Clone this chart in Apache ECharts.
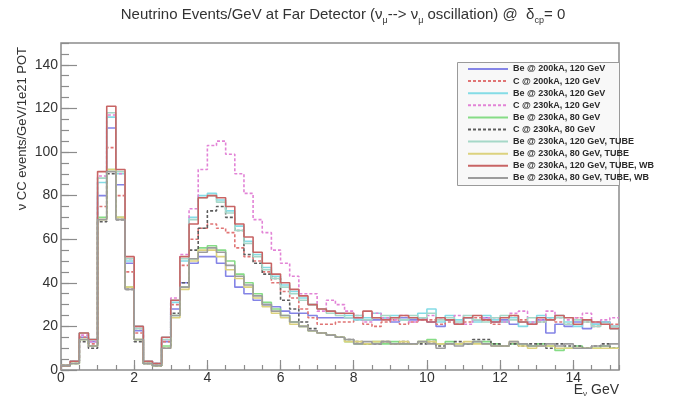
<!DOCTYPE html>
<html>
<head>
<meta charset="utf-8">
<script src="https://cdn.jsdelivr.net/npm/echarts@6/dist/echarts.min.js"></script>
<style>
html, body { margin: 0; padding: 0; background: #fff; }
#chart { width: 686px; height: 397px; }
</style>
</head>
<body>
<div id="chart"></div>
<script>
// histogram binning (GeV)
var binWidth = 0.25;
var xMax = 15.25;
var yMax = 150;

var seriesNames = [
    'Be @ 200kA, 120 GeV',
    'C @ 200kA, 120 GeV',
    'Be @ 230kA, 120 GeV',
    'C @ 230kA, 120 GeV',
    'Be @ 230kA, 80 GeV',
    'C @ 230kA, 80 GeV',
    'Be @ 230kA, 120 GeV, TUBE',
    'Be @ 230kA, 80 GeV, TUBE',
    'Be @ 230kA, 120 GeV, TUBE, WB',
    'Be @ 230kA, 80 GeV, TUBE, WB'
];

// events per bin, bins of 0.25 GeV from 0 to 15.25
var be200_120 = [2, 4, 15, 13, 80, 111, 85, 49, 18, 3, 3, 13,
    28, 40, 49, 52, 52, 49, 43, 38, 35, 32, 30, 29, 27, 26, 26, 25, 24, 24, 24,
    24, 24, 23, 23, 24, 22, 24, 23, 24, 22, 20, 23, 21, 24, 23, 24, 22, 23, 21, 22, 21, 23, 17, 21, 20, 22, 19, 21, 22, 20];
var c200_120 = [2, 4, 15, 12, 75, 102, 80, 45, 17, 3, 3, 13,
    30, 48, 60, 65, 67, 65, 63, 56, 52, 50, 45, 40, 36, 33, 28, 24, 21, 21, 22,
    22, 23, 21, 20, 22, 23, 21, 22, 24, 23, 21, 22, 21, 22, 24, 23, 21, 22, 25, 23, 21, 22, 24, 22, 21, 24, 22, 20, 22, 21];
var be230_120 = [2, 4, 17, 14, 86, 116, 90, 50, 20, 4, 3, 15,
    31, 50, 70, 80, 81, 78, 73, 66, 59, 53, 47, 43, 39, 36, 33, 30, 28, 27, 26,
    25, 23, 24, 26, 24, 25, 23, 24, 26, 28, 22, 25, 23, 24, 22, 25, 23, 22, 24, 20, 22, 25, 24, 25, 22, 20, 23, 21, 22, 19];
var c230_120 = [2, 4, 16, 13, 89, 117, 90, 51, 19, 4, 3, 14,
    33, 53, 74, 92, 103, 105, 99, 90, 81, 69, 63, 55, 49, 43, 35, 35, 27, 32, 30,
    27, 25, 22, 26, 24, 23, 25, 22, 23, 25, 24, 23, 25, 21, 23, 24, 24, 22, 26, 27, 22, 23, 27, 24, 23, 24, 26, 22, 23, 24];
var be230_80 = [2, 3, 14, 11, 70, 92, 70, 38, 14, 3, 2, 11,
    25, 38, 51, 56, 57, 55, 50, 44, 40, 35, 31, 28, 25, 22, 20, 18, 17, 16, 15,
    13, 12, 12, 13, 12, 13, 12, 12, 13, 14, 12, 13, 12, 12, 13, 13, 12, 11, 12, 12, 11, 12, 11, 9, 10, 11, 10, 10, 11, 10];
var c230_80 = [2, 3, 13, 10, 68, 90, 69, 37, 13, 3, 2, 10,
    26, 40, 55, 65, 73, 75, 70, 64, 53, 49, 44, 42, 32, 28, 22, 19, 17, 16, 15,
    14, 13, 12, 12, 13, 12, 13, 12, 12, 13, 11, 12, 13, 12, 14, 14, 12, 11, 12, 11, 12, 12, 10, 12, 11, 11, 10, 11, 12, 10];
var tube_120 = [2, 4, 17, 14, 88, 118, 91, 51, 19, 4, 3, 14,
    32, 51, 69, 79, 80, 77, 72, 64, 58, 52, 46, 42, 38, 35, 32, 30, 28, 26, 25,
    24, 25, 23, 24, 25, 24, 23, 25, 24, 26, 23, 24, 22, 25, 23, 22, 24, 25, 23, 22, 24, 22, 23, 24, 21, 23, 22, 20, 21, 20];
var tube_80 = [2, 3, 14, 11, 69, 92, 70, 38, 14, 3, 2, 10,
    24, 37, 50, 55, 55, 52, 46, 42, 38, 33, 29, 26, 24, 21, 20, 18, 17, 16, 15,
    13, 13, 12, 13, 13, 12, 13, 12, 13, 13, 12, 12, 12, 13, 12, 12, 11, 11, 13, 11, 10, 11, 11, 10, 10, 10, 10, 10, 10, 10];
var tubeWB_120 = [2, 4, 17, 14, 91, 121, 92, 52, 20, 4, 3, 15,
    32, 52, 67, 79, 80, 79, 75, 67, 61, 54, 49, 44, 40, 37, 34, 30, 28, 27, 26,
    26, 24, 27, 24, 23, 24, 25, 24, 23, 22, 24, 23, 21, 24, 25, 23, 22, 24, 25, 22, 21, 24, 23, 25, 24, 21, 23, 22, 21, 19];
var tubeWB_80 = [2, 3, 14, 11, 69, 91, 69, 37, 14, 3, 2, 10,
    25, 38, 51, 54, 56, 54, 48, 43, 39, 34, 30, 27, 25, 22, 20, 18, 17, 16, 15,
    14, 12, 13, 12, 13, 12, 12, 12, 13, 12, 10, 12, 11, 12, 13, 12, 11, 11, 13, 12, 11, 11, 12, 11, 12, 10, 10, 11, 11, 12];

var allValues = [be200_120, c200_120, be230_120, c230_120, be230_80, c230_80,
    tube_120, tube_80, tubeWB_120, tubeWB_80];
var colors = ['#8484e6', '#e07474', '#84dce6', '#e283d6', '#86dc86', '#5c5c5c',
    '#a6d8c8', '#dcd27e', '#c86464', '#9c9c9c'];
var dashed = [false, true, false, true, false, true, false, false, false, false];

var chart = echarts.init(document.getElementById('chart'));

var gridBox = { left: 61, right: 67, top: 43, bottom: 27 };
var font = 'Liberation Sans';
var axisGray = '#8c8c8c';

// turn bin contents into step points (low edge of each bin + closing edge)
function histPoints(values) {
    var pts = [[0, 0]];
    values.forEach(function (v, i) {
        pts.push([i * binWidth, v]);
    });
    pts.push([values.length * binWidth, values[values.length - 1]]);
    return pts;
}

var series = allValues.map(function (vals, i) {
    return {
        name: seriesNames[i],
        type: 'line',
        step: 'end',
        symbol: 'none',
        data: histPoints(vals),
        lineStyle: {
            color: colors[i],
            width: 1.6,
            type: dashed[i] ? [3, 2] : 'solid'
        },
        itemStyle: { color: colors[i] },
        z: 3
    };
});

var option = {
    animation: false,
    backgroundColor: '#fff',
    title: {
        text: 'Neutrino Events/GeV at Far Detector (ν{s|μ}--> ν{s|μ} oscillation) @  δ{s|cp}= 0',
        left: 'center',
        top: 0,
        textStyle: {
            fontFamily: font,
            fontSize: 15,
            fontWeight: 'normal',
            color: '#333',
            lineHeight: 20,
            rich: {
                s: { fontSize: 9, fontFamily: font, color: '#333', verticalAlign: 'bottom', lineHeight: 9 }
            }
        }
    },
    grid: [
        Object.assign({ show: true, borderColor: axisGray, borderWidth: 1.5, backgroundColor: '#fff' }, gridBox),
        // second grid on the same box, only carries the minor ticks
        Object.assign({ show: false }, gridBox)
    ],
    legend: {
        data: seriesNames,
        orient: 'vertical',
        left: 467,
        top: 64,
        itemWidth: 40,
        itemHeight: 10,
        itemGap: 2.1,
        padding: 0,
        itemStyle: { opacity: 0 },
        textStyle: {
            fontFamily: font,
            fontSize: 9,
            fontWeight: 'bold',
            color: '#2a2a2a',
            lineHeight: 10
        },
        z: 10
    },
    graphic: [
        {
            type: 'rect',
            shape: { x: 457.5, y: 62.5, width: 162, height: 123 },
            style: { fill: '#f8f8f8', stroke: '#9a9a9a', lineWidth: 1 },
            z: 9
        },
        {
            type: 'text',
            x: 22,
            y: 47,
            rotation: Math.PI / 2,
            style: {
                text: 'ν CC events/GeV/1e21 POT',
                fontFamily: font,
                fontSize: 13,
                fill: '#333',
                align: 'right',
                verticalAlign: 'middle'
            }
        },
        {
            type: 'text',
            x: 619,
            y: 390,
            style: {
                text: 'E{s|ν} GeV',
                fontFamily: font,
                fontSize: 14,
                fill: '#333',
                align: 'right',
                verticalAlign: 'middle',
                lineHeight: 16,
                rich: {
                    s: { fontSize: 8, fontFamily: font, fill: '#333', verticalAlign: 'bottom', lineHeight: 8 }
                }
            }
        }
    ],
    xAxis: [
        {
            type: 'value',
            gridIndex: 0,
            min: 0,
            max: xMax,
            interval: 2,
            axisLine: { show: false },
            axisTick: { inside: true, length: 10, lineStyle: { color: axisGray, width: 1.2 } },
            axisLabel: {
                showMaxLabel: false,
                margin: 1,
                fontFamily: font,
                fontSize: 14,
                color: '#333'
            },
            splitLine: { show: false }
        },
        {
            type: 'value',
            gridIndex: 1,
            min: 0,
            max: xMax,
            interval: 0.5,
            axisLine: { show: false },
            axisTick: { inside: true, length: 5, lineStyle: { color: axisGray, width: 1.2 } },
            axisLabel: { show: false },
            splitLine: { show: false }
        }
    ],
    yAxis: [
        {
            type: 'value',
            gridIndex: 0,
            min: 0,
            max: yMax,
            interval: 20,
            axisLine: { show: false },
            axisTick: { inside: true, length: 16, lineStyle: { color: axisGray, width: 1.2 } },
            axisLabel: {
                showMaxLabel: false,
                margin: 3,
                fontFamily: font,
                fontSize: 14,
                color: '#333'
            },
            splitLine: { show: false }
        },
        {
            type: 'value',
            gridIndex: 1,
            min: 0,
            max: yMax,
            interval: 5,
            axisLine: { show: false },
            axisTick: { inside: true, length: 8, lineStyle: { color: axisGray, width: 1.2 } },
            axisLabel: { show: false },
            splitLine: { show: false }
        }
    ],
    series: series
};

chart.setOption(option);
</script>
</body>
</html>
